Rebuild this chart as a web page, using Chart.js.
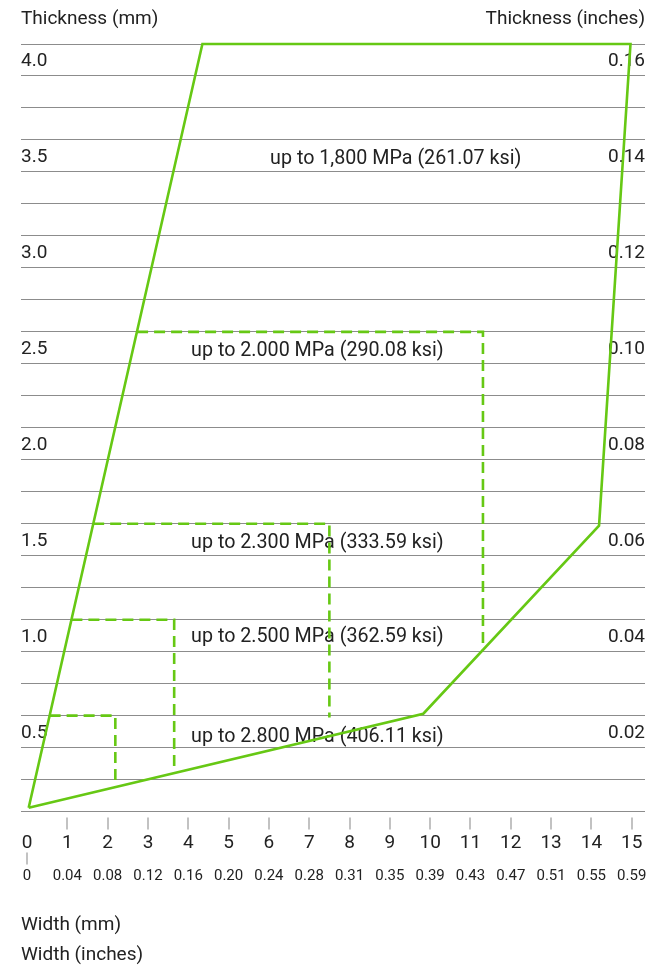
<!doctype html>
<html lang="en">
<head>
<meta charset="utf-8">
<title>Thickness and width range</title>
<script src="https://cdn.jsdelivr.net/npm/chart.js@4.4.1/dist/chart.umd.min.js"></script>
<style>
  html, body { margin: 0; padding: 0; background: #fff; }
  #wrap { width: 649px; height: 966px; }
</style>
</head>
<body>
<div id="wrap"><canvas id="myChart" width="649" height="966"></canvas></div>
<script>
// x axis: width, y axis: thickness
const widthTicks = [0, 1, 2, 3, 4, 5, 6, 7, 8, 9, 10, 11, 12, 13, 14, 15];
const widthMmLabels = ['0', '1', '2', '3', '4', '5', '6', '7', '8', '9', '10', '11', '12', '13', '14', '15'];
const widthInLabels = ['0', '0.04', '0.08', '0.12', '0.16', '0.20', '0.24', '0.28', '0.31', '0.35', '0.39', '0.43', '0.47', '0.51', '0.55', '0.59'];

const thickTicks = [0.5, 1.0, 1.5, 2.0, 2.5, 3.0, 3.5, 4.0];
const thickMmLabels = ['0.5', '1.0', '1.5', '2.0', '2.5', '3.0', '3.5', '4.0'];
const thickInLabels = ['0.02', '0.04', '0.06', '0.08', '0.10', '0.12', '0.14', '0.16'];

// outer envelope (up to 1,800 MPa)
const envelopeX = [0.04, 4.35, 14.97, 14.19, 9.83, 0.04];
const envelopeY = [0.02, 4.00, 4.00, 1.49, 0.51, 0.02];

// dashed limits for the higher grades
const limit2000X = [2.73, 11.31, 11.31];
const limit2000Y = [2.50, 2.50, 0.845];
const limit2300X = [1.64, 7.50, 7.50];
const limit2300Y = [1.50, 1.50, 0.49];
const limit2500X = [1.10, 3.65, 3.65];
const limit2500Y = [1.00, 1.00, 0.21];
const limit2800X = [0.56, 2.19, 2.19];
const limit2800Y = [0.50, 0.50, 0.13];

const gradeLabels = [
  'up to 1,800 MPa (261.07 ksi)',
  'up to 2.000 MPa (290.08 ksi)',
  'up to 2.300 MPa (333.59 ksi)',
  'up to 2.500 MPa (362.59 ksi)',
  'up to 2.800 MPa (406.11 ksi)'
];
const gradeX = [6.03, 4.07, 4.07, 4.07, 4.07];
const gradeY = [3.40, 2.40, 1.40, 0.91, 0.39];

const green = '#66c814';
const textColor = '#222';

function pts(xs, ys) {
  return xs.map((v, i) => ({ x: v, y: ys[i] }));
}
function lineSet(xs, ys, dashed) {
  return {
    data: pts(xs, ys),
    borderColor: green,
    borderWidth: 2.6,
    borderDash: dashed ? [11, 6] : [],
    pointRadius: 0,
    tension: 0,
    fill: false,
    clip: false
  };
}
function findIdx(arr, v) {
  return arr.findIndex(a => Math.abs(a - v) < 1e-6);
}
// hidden tick marks, only used to space the two rows of width labels
function spacerGrid(len) {
  return { display: true, drawOnChartArea: false, drawTicks: true, tickLength: len, tickColor: 'rgba(0,0,0,0)' };
}

const decorations = {
  id: 'decorations',
  beforeDatasetsDraw(chart) {
    const { ctx, scales: { x, y } } = chart;
    ctx.save();
    ctx.fillStyle = textColor;
    ctx.font = '19.7px Roboto';
    ctx.textBaseline = 'middle';
    ctx.textAlign = 'left';
    gradeLabels.forEach((t, i) => {
      ctx.fillText(t, x.getPixelForValue(gradeX[i]), y.getPixelForValue(gradeY[i]));
    });
    ctx.restore();
  },
  afterDraw(chart) {
    const { ctx, chartArea, scales: { x } } = chart;
    ctx.save();
    // little tick marks under the axis
    ctx.strokeStyle = '#c2c2c2';
    ctx.lineWidth = 2;
    widthTicks.forEach(v => {
      const px = Math.round(x.getPixelForValue(v));
      const top = chartArea.bottom + (v === 0 ? 41 : 6);
      ctx.beginPath();
      ctx.moveTo(px, top);
      ctx.lineTo(px, top + 12);
      ctx.stroke();
    });
    // axis captions
    ctx.fillStyle = textColor;
    ctx.font = '19px Roboto';
    ctx.textBaseline = 'middle';
    ctx.textAlign = 'left';
    ctx.fillText('Thickness (mm)', chartArea.left, 19);
    ctx.fillText('Width (mm)', chartArea.left, 925);
    ctx.fillText('Width (inches)', chartArea.left, 955);
    ctx.textAlign = 'right';
    ctx.fillText('Thickness (inches)', chartArea.right, 19);
    ctx.restore();
  }
};

Chart.defaults.font.family = 'Roboto';
Chart.defaults.color = textColor;

const ctx = document.getElementById('myChart').getContext('2d');
const chart = new Chart(ctx, {
  type: 'line',
  data: {
    datasets: [
      lineSet(envelopeX, envelopeY, false),
      lineSet(limit2000X, limit2000Y, true),
      lineSet(limit2300X, limit2300Y, true),
      lineSet(limit2500X, limit2500Y, true),
      lineSet(limit2800X, limit2800Y, true)
    ]
  },
  options: {
    responsive: false,
    animation: false,
    devicePixelRatio: 1,
    layout: { padding: { left: 21, right: 4, top: 44, bottom: 81 } },
    plugins: { legend: { display: false }, tooltip: { enabled: false } },
    scales: {
      x: {
        type: 'linear',
        position: 'bottom',
        min: -0.15,
        max: 15.33,
        afterBuildTicks: s => { s.ticks = widthTicks.map(v => ({ value: v })); },
        grid: spacerGrid(20),
        border: { display: false },
        ticks: {
          autoSkip: false,
          maxRotation: 0,
          padding: 0,
          font: { size: 19 },
          callback: v => { const i = findIdx(widthTicks, v); return i < 0 ? '' : widthMmLabels[i]; }
        }
      },
      x2: {
        type: 'linear',
        position: 'bottom',
        min: -0.15,
        max: 15.33,
        afterBuildTicks: s => { s.ticks = widthTicks.map(v => ({ value: v })); },
        grid: spacerGrid(12.6),
        border: { display: false },
        ticks: {
          autoSkip: false,
          maxRotation: 0,
          padding: 0,
          font: { size: 15 },
          callback: v => { const i = findIdx(widthTicks, v); return i < 0 ? '' : widthInLabels[i]; }
        }
      },
      y: {
        type: 'linear',
        position: 'left',
        min: 0,
        max: 4,
        afterBuildTicks: s => {
          const t = [];
          for (let i = 0; i <= 24; i++) t.push({ value: i * 4 / 24 });
          s.ticks = t;
        },
        grid: { color: '#8c8c8c', lineWidth: 1, drawTicks: false },
        border: { display: false },
        ticks: {
          mirror: true,
          padding: 0,
          labelOffset: 17.5,
          autoSkip: false,
          font: { size: 19 },
          callback: v => { const i = findIdx(thickTicks, v); return i < 0 ? '' : thickMmLabels[i]; }
        }
      },
      y2: {
        type: 'linear',
        position: 'right',
        min: 0,
        max: 4,
        afterBuildTicks: s => { s.ticks = thickTicks.map(v => ({ value: v })); },
        grid: { display: false, drawTicks: false },
        border: { display: false },
        ticks: {
          mirror: true,
          padding: 0,
          labelOffset: 17.5,
          autoSkip: false,
          font: { size: 19 },
          callback: v => { const i = findIdx(thickTicks, v); return i < 0 ? '' : thickInLabels[i]; }
        }
      }
    }
  },
  plugins: [decorations]
});
</script>
</body>
</html>
